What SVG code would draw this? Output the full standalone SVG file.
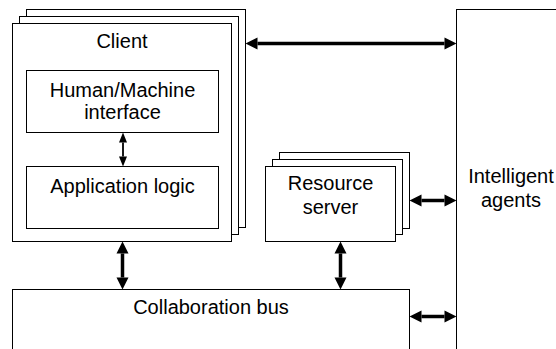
<svg xmlns="http://www.w3.org/2000/svg" width="556" height="349" viewBox="0 0 556 349">
  <defs>
    <marker id="ah" markerUnits="userSpaceOnUse" markerWidth="12" markerHeight="12" refX="0" refY="6" orient="auto-start-reverse" overflow="visible">
      <path d="M0,0 L12,6 L0,12 z" fill="#000"/>
    </marker>
    <marker id="ahs" markerUnits="userSpaceOnUse" markerWidth="10" markerHeight="8" refX="0" refY="4" orient="auto-start-reverse" overflow="visible">
      <path d="M0,0 L10,4 L0,8 z" fill="#000"/>
    </marker>
  </defs>
  <style>
    .box { fill: #fff; stroke: #000; stroke-width: 1; }
    .lbl { font-family: "Liberation Sans", Arial, sans-serif; font-size: 20px; fill: #000; text-anchor: middle; }
    .thick { stroke: #000; stroke-width: 3.5; fill: none; marker-start: url(#ah); marker-end: url(#ah); }
    .thin { stroke: #000; stroke-width: 1.8; fill: none; marker-start: url(#ahs); marker-end: url(#ahs); }
  </style>
  <rect width="556" height="349" fill="#fff"/>

  <g id="intelligent-agents">
    <rect class="box" x="456.5" y="9.5" width="130" height="360"/>
    <text class="lbl" x="511" y="182.5">Intelligent</text>
    <text class="lbl" x="511" y="206.5">agents</text>
  </g>

  <g id="client">
    <rect class="box" x="26.5" y="9.5" width="219" height="218"/>
    <rect class="box" x="19.5" y="16.5" width="219" height="218"/>
    <rect class="box" x="12.5" y="23.5" width="219" height="218"/>
    <text class="lbl" x="122" y="47.5">Client</text>
  </g>

  <g id="hmi">
    <rect class="box" x="26.5" y="70.5" width="192" height="62"/>
    <text class="lbl" x="122.5" y="96.5">Human/Machine</text>
    <text class="lbl" x="122.5" y="119">interface</text>
  </g>

  <g id="app-logic">
    <rect class="box" x="26.5" y="166.5" width="192" height="62"/>
    <text class="lbl" x="122.5" y="192.5">Application logic</text>
  </g>

  <g id="resource-server">
    <rect class="box" x="279.5" y="152.5" width="130" height="76"/>
    <rect class="box" x="272.5" y="159.5" width="130" height="75"/>
    <rect class="box" x="265.5" y="166.5" width="130" height="75"/>
    <text class="lbl" x="330.5" y="190">Resource</text>
    <text class="lbl" x="330.5" y="214">server</text>
  </g>

  <g id="collaboration-bus">
    <rect class="box" x="12.5" y="289.5" width="397" height="80"/>
    <text class="lbl" x="211" y="313.5">Collaboration bus</text>
  </g>

  <g id="connectors">
    <line class="thick" x1="257.5" y1="43.5" x2="444.5" y2="43.5"/>
    <line class="thick" x1="122.5" y1="253.5" x2="122.5" y2="277.5"/>
    <line class="thick" x1="340.5" y1="253.5" x2="340.5" y2="277.5"/>
    <line class="thick" x1="421.5" y1="200.5" x2="444.5" y2="200.5"/>
    <line class="thick" x1="421.5" y1="316.5" x2="444.5" y2="316.5"/>
    <line class="thin" x1="123" y1="142.5" x2="123" y2="156.5"/>
  </g>
</svg>
